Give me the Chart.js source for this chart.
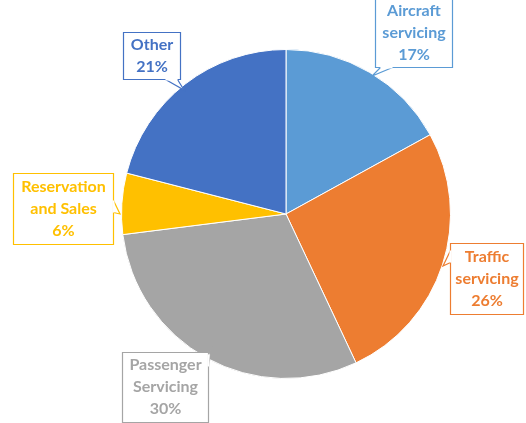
<!DOCTYPE html>
<html>
<head>
<meta charset="utf-8">
<script src="https://cdn.jsdelivr.net/npm/chart.js@4.4.0/dist/chart.umd.min.js"></script>
<style>
  html, body { margin: 0; padding: 0; background: #ffffff; }
  #wrap { width: 526px; height: 423px; }
</style>
</head>
<body>
<div id="wrap"><canvas id="myChart" width="526" height="423"></canvas></div>
<script>
const categories = ['Aircraft servicing', 'Traffic servicing', 'Passenger Servicing', 'Reservation and Sales', 'Other'];
const shares = [17, 26, 30, 6, 21];
const labelLines = [
  ['Aircraft', 'servicing'],
  ['Traffic', 'servicing'],
  ['Passenger', 'Servicing'],
  ['Reservation', 'and Sales'],
  ['Other']
];
const colors = ['#5B9BD5', '#ED7D31', '#A5A5A5', '#FFC000', '#4472C4'];

// callout boxes: x, y, w, h, pointer base points and tip
const callouts = [
  { x: 375, y: -2, w: 77, h: 69, base: [[380, 67], [392, 67]], tip: [372, 76] },
  { x: 450, y: 243, w: 73, h: 71, base: [[450, 250], [450, 262]], tip: [443, 266] },
  { x: 122, y: 352, w: 86, h: 70, base: [[208, 354], [208, 366]], tip: [211, 350] },
  { x: 13, y: 173, w: 100, h: 71, base: [[113, 200], [113, 212]], tip: [120, 214] },
  { x: 123, y: 32, w: 57, h: 47, base: [[165, 79], [177, 79]], tip: [184, 90] }
];

const calloutPlugin = {
  id: 'callouts',
  afterDraw: (chart) => {
    const ctx = chart.ctx;
    ctx.save();
    shares.forEach((v, i) => {
      const c = callouts[i];
      const col = colors[i];
      ctx.fillStyle = '#ffffff';
      ctx.strokeStyle = col;
      ctx.lineWidth = 1.2;
      ctx.beginPath();
      ctx.rect(c.x + 0.5, c.y + 0.5, c.w, c.h);
      ctx.fill();
      ctx.stroke();
      // pointer wedge
      ctx.beginPath();
      ctx.moveTo(c.base[0][0] + 0.5, c.base[0][1] + 0.5);
      ctx.lineTo(c.tip[0], c.tip[1]);
      ctx.lineTo(c.base[1][0] + 0.5, c.base[1][1] + 0.5);
      ctx.fill();
      ctx.stroke();
      // cover the box edge inside the wedge
      ctx.beginPath();
      ctx.strokeStyle = '#ffffff';
      ctx.lineWidth = 2;
      ctx.moveTo(c.base[0][0] + 0.5, c.base[0][1] + 0.5);
      ctx.lineTo(c.base[1][0] + 0.5, c.base[1][1] + 0.5);
      ctx.stroke();

      const lines = labelLines[i].concat([v + '%']);
      ctx.fillStyle = col;
      ctx.font = 'bold 16px Lato, "Open Sans", sans-serif';
      ctx.textAlign = 'center';
      ctx.textBaseline = 'middle';
      const lh = 22;
      const cy = c.y + c.h / 2;
      lines.forEach((t, k) => {
        ctx.fillText(t, c.x + c.w / 2 + 0.5, cy + (k - (lines.length - 1) / 2) * lh);
      });
    });
    ctx.restore();
  }
};

const bgPlugin = {
  id: 'custom_canvas_background_color',
  beforeDraw: (chart) => {
    const ctx = chart.canvas.getContext('2d');
    ctx.save();
    ctx.globalCompositeOperation = 'destination-over';
    ctx.fillStyle = 'white';
    ctx.fillRect(0, 0, chart.width, chart.height);
    ctx.restore();
  }
};

const ctx = document.getElementById('myChart').getContext('2d');
new Chart(ctx, {
  type: 'pie',
  data: {
    labels: categories,
    datasets: [
      {
        data: shares,
        backgroundColor: colors,
        borderColor: '#ffffff',
        borderWidth: 1,
        hoverOffset: 0
      }
    ]
  },
  options: {
    responsive: false,
    animation: false,
    layout: {
      padding: { left: 121, right: 75, top: 49, bottom: 44 }
    },
    plugins: {
      legend: { display: false },
      tooltip: { enabled: false }
    }
  },
  plugins: [bgPlugin, calloutPlugin]
});
</script>
</body>
</html>
